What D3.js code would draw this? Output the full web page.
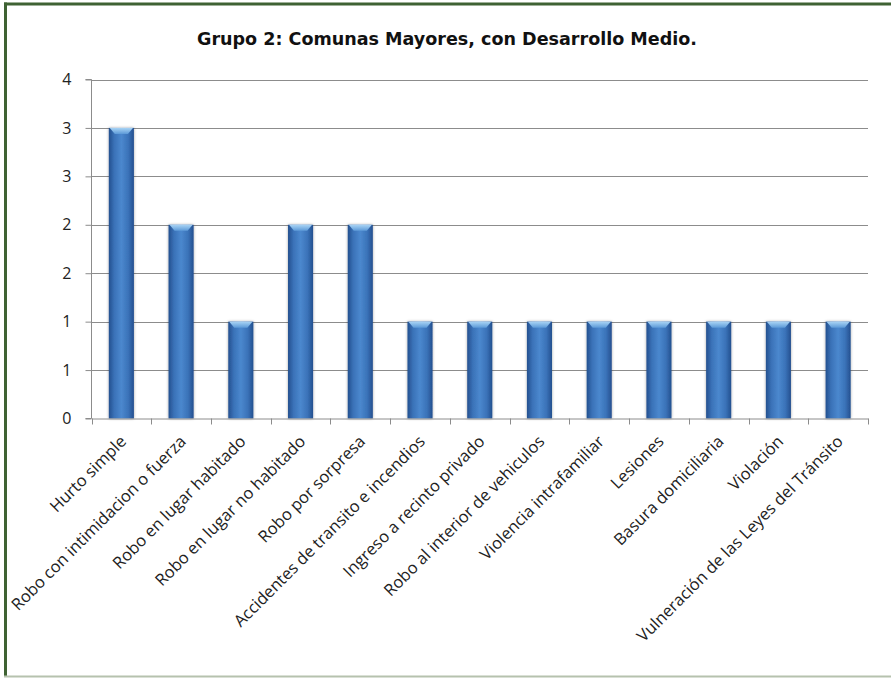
<!DOCTYPE html>
<html>
<head>
<meta charset="utf-8">
<script src="https://cdn.jsdelivr.net/npm/d3@7"></script>
<style>
html,body{margin:0;padding:0;background:#fff;}
svg{display:block;}
</style>
</head>
<body>
<svg id="chart" width="891" height="678"></svg>
<script>
const categories = [
  "Hurto simple",
  "Robo con intimidacion o fuerza",
  "Robo en lugar habitado",
  "Robo en lugar no habitado",
  "Robo por sorpresa",
  "Accidentes de transito e incendios",
  "Ingreso a recinto privado",
  "Robo al interior de vehiculos",
  "Violencia intrafamiliar",
  "Lesiones",
  "Basura domiciliaria",
  "Violación",
  "Vulneración de las Leyes del Tránsito"
];
const values = [3, 2, 1, 2, 2, 1, 1, 1, 1, 1, 1, 1, 1];
const tickValues = [0, 0.5, 1, 1.5, 2, 2.5, 3, 3.5];
const tickLabels = ["0", "1", "1", "2", "2", "3", "3", "4"];
const title = "Grupo 2: Comunas Mayores, con Desarrollo Medio.";

const svg = d3.select("#chart");
const W = 891, H = 678;

// frame
svg.append("rect").attr("x", 0).attr("y", 0).attr("width", W).attr("height", H).attr("fill", "#fff");
svg.append("rect").attr("x", 4).attr("y", 2.5).attr("width", W - 4).attr("height", 3).attr("fill", "#3f6233");
svg.append("rect").attr("x", 4).attr("y", 2.5).attr("width", 3).attr("height", H - 4).attr("fill", "#3f6233");
svg.append("rect").attr("x", 4).attr("y", 675.5).attr("width", W - 4).attr("height", 2).attr("fill", "#b6c2ae");

const x = d3.scaleBand().domain(categories).range([91.5, 868]).paddingInner(0).paddingOuter(0);
const y = d3.scaleLinear().domain([0, 3.5]).range([418.5, 79.5]);

const defs = svg.append("defs");
const grad = defs.append("linearGradient").attr("id", "barGrad").attr("x1", "0%").attr("x2", "100%").attr("y1", "0%").attr("y2", "0%");
grad.append("stop").attr("offset", "0%").attr("stop-color", "#24508f");
grad.append("stop").attr("offset", "22%").attr("stop-color", "#3a72b8");
grad.append("stop").attr("offset", "50%").attr("stop-color", "#4b88ce");
grad.append("stop").attr("offset", "78%").attr("stop-color", "#3a72b8");
grad.append("stop").attr("offset", "100%").attr("stop-color", "#24508f");
const capGrad = defs.append("linearGradient").attr("id", "capGrad").attr("x1", "0%").attr("x2", "0%").attr("y1", "0%").attr("y2", "100%");
capGrad.append("stop").attr("offset", "0%").attr("stop-color", "#a9d4f5");
capGrad.append("stop").attr("offset", "100%").attr("stop-color", "#5d9ad8");
const shadow = defs.append("filter").attr("id", "shadow").attr("x", "-40%").attr("y", "-10%").attr("width", "180%").attr("height", "120%");
shadow.append("feGaussianBlur").attr("in", "SourceAlpha").attr("stdDeviation", 1.6).attr("result", "blur");
shadow.append("feComponentTransfer").attr("in", "blur").attr("result", "sh").append("feFuncA").attr("type", "linear").attr("slope", 0.35);
const merge = shadow.append("feMerge");
merge.append("feMergeNode").attr("in", "sh");
merge.append("feMergeNode").attr("in", "SourceGraphic");

// gridlines
svg.append("g").selectAll("line").data(tickValues.slice(1)).join("line")
  .attr("x1", 91.5).attr("x2", 868).attr("y1", d => Math.round(y(d)) + 0.5).attr("y2", d => Math.round(y(d)) + 0.5)
  .attr("stroke", "#8c8c8c").attr("stroke-width", 1);

// y axis
const yAxis = d3.axisLeft(y).tickValues(tickValues).tickFormat((d, i) => tickLabels[i]).tickSize(6).tickPadding(14);
const gy = svg.append("g").attr("transform", "translate(91.5,0)").call(yAxis);
gy.select(".domain").attr("stroke", "#8c8c8c").attr("d", `M-6,${y(0)}H0V${y(3.5)}H-6`);
gy.selectAll(".tick line").attr("stroke", "#8c8c8c");
gy.selectAll(".tick text").attr("font-family", "'Open Sans', sans-serif").attr("font-size", 16).attr("fill", "#222");

// bars
const barW = x.bandwidth() * 0.42;
const bars = svg.append("g").selectAll("g").data(categories.map((c, i) => ({ c, v: values[i] }))).join("g");
bars.append("rect")
  .attr("x", d => x(d.c) + (x.bandwidth() - barW) / 2)
  .attr("y", d => y(d.v))
  .attr("width", barW)
  .attr("height", d => y(0) - y(d.v))
  .attr("fill", "url(#barGrad)")
  .attr("filter", "url(#shadow)");
bars.append("path")
  .attr("d", d => {
    const x0 = x(d.c) + (x.bandwidth() - barW) / 2, x1 = x0 + barW, t = y(d.v);
    return `M${x0 + 1},${t}L${x1 - 1},${t}L${x1 - 6},${t + 6}L${x0 + 6},${t + 6}Z`;
  })
  .attr("fill", "url(#capGrad)");

// x axis
const xAxis = d3.axisBottom(x).tickSize(0).tickFormat("");
const gx = svg.append("g").attr("transform", `translate(0,${y(0)})`).call(xAxis);
gx.select(".domain").attr("stroke", "#8c8c8c");
svg.append("g").selectAll("line").data(categories.concat(["_end"])).join("line")
  .attr("x1", (d, i) => Math.round(91.5 + i * x.step()) + 0.5)
  .attr("x2", (d, i) => Math.round(91.5 + i * x.step()) + 0.5)
  .attr("y1", y(0)).attr("y2", y(0) + 6)
  .attr("stroke", "#8c8c8c");

svg.append("g").selectAll("text").data(categories).join("text")
  .attr("transform", d => `translate(${x(d) + x.bandwidth() / 2 + 6},${y(0) + 24}) rotate(-45)`)
  .attr("text-anchor", "end")
  .attr("font-family", "'Open Sans', sans-serif")
  .attr("font-size", 16.5)
  .attr("fill", "#222")
  .text(d => d);

// title
svg.append("text").attr("x", 447).attr("y", 45).attr("text-anchor", "middle")
  .attr("font-family", "'DejaVu Sans Condensed', 'Open Sans', sans-serif")
  .attr("font-weight", "bold").attr("font-size", 17).attr("fill", "#111")
  .attr("textLength", 500).attr("lengthAdjust", "spacingAndGlyphs")
  .text(title);
</script>
</body>
</html>
